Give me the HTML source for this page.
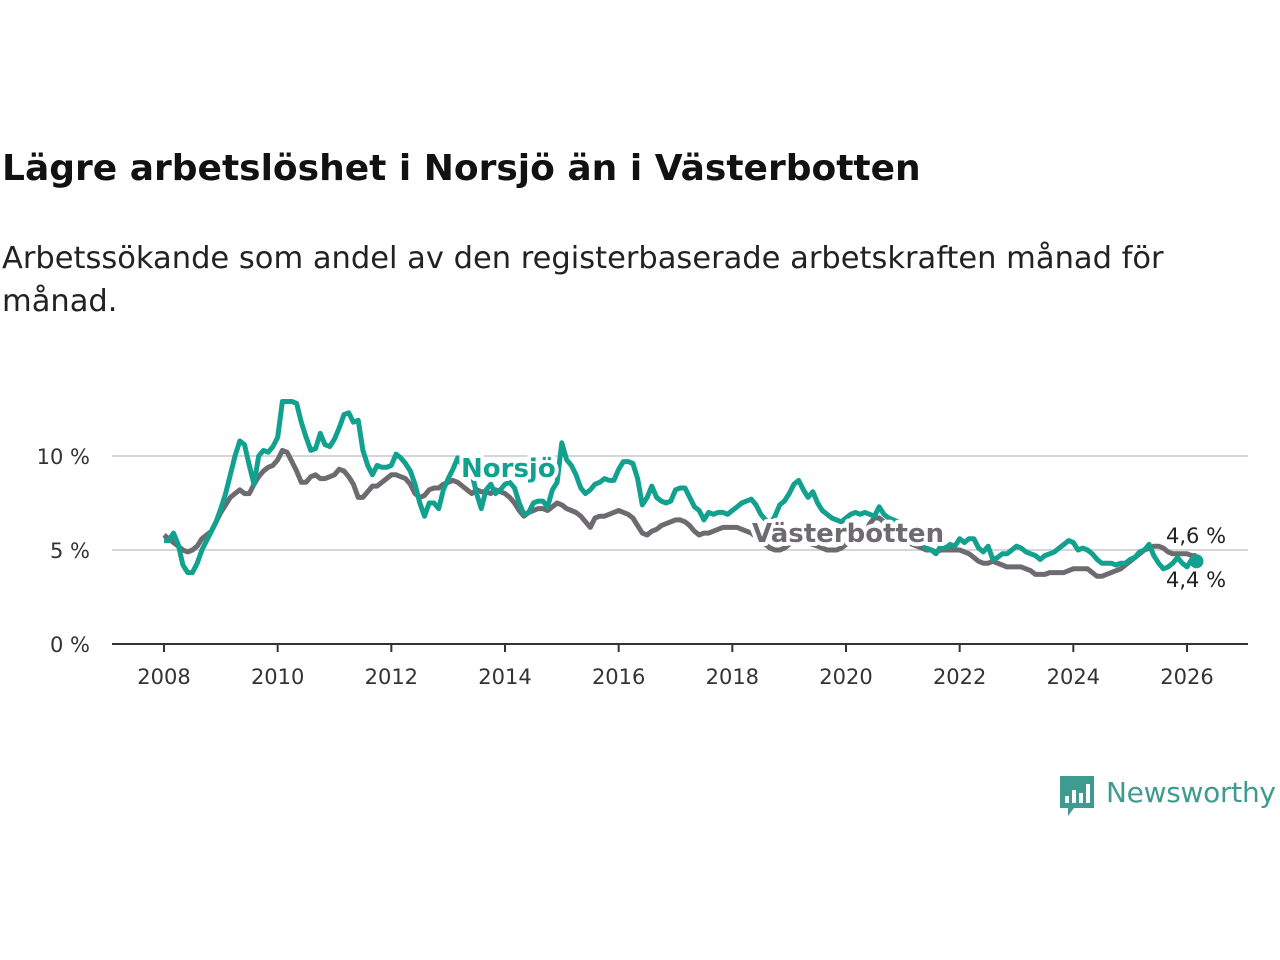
<!DOCTYPE html>
<html><head><meta charset="utf-8"><style>
body{margin:0;background:#fff;width:1280px;height:960px;overflow:hidden;font-family:"DejaVu Sans","Liberation Sans",sans-serif}
h1{position:absolute;left:2px;top:148px;margin:0;font-size:36px;font-weight:bold;color:#111}
p{position:absolute;left:2px;top:237px;margin:0;font-size:30.5px;line-height:43px;color:#222;width:1200px}
svg{position:absolute;left:0;top:0}
</style></head><body>
<h1>Lägre arbetslöshet i Norsjö än i Västerbotten</h1>
<p>Arbetssökande som andel av den registerbaserade arbetskraften månad för månad.</p>
<svg id="c" width="1280" height="960"></svg>
<script>
const years=[2008,2010,2012,2014,2016,2018,2020,2022,2024,2026];
const yTicks=[0,5,10];
const startYear=2008;
const norsjo=[5.5,5.5,5.9,5.3,4.2,3.8,3.8,4.3,5.0,5.5,6.0,6.5,
7.2,8.0,9.0,10.0,10.8,10.6,9.5,8.5,10.0,10.3,10.2,10.5,
11.0,12.9,12.9,12.9,12.8,11.8,11.0,10.3,10.4,11.2,10.6,10.5,
10.9,11.5,12.2,12.3,11.8,11.9,10.3,9.5,9.0,9.5,9.4,9.4,
9.5,10.1,9.9,9.6,9.2,8.5,7.5,6.8,7.5,7.5,7.2,8.2,
8.8,9.3,9.9,9.5,9.0,9.1,8.0,7.2,8.2,8.5,8.0,8.2,
8.5,8.6,8.3,7.5,6.9,7.0,7.5,7.6,7.6,7.3,8.2,8.6,
10.7,9.8,9.5,9.0,8.3,8.0,8.2,8.5,8.6,8.8,8.7,8.7,
9.3,9.7,9.7,9.6,8.8,7.4,7.8,8.4,7.8,7.6,7.5,7.6,
8.2,8.3,8.3,7.8,7.3,7.1,6.6,7.0,6.9,7.0,7.0,6.9,
7.1,7.3,7.5,7.6,7.7,7.4,6.9,6.6,6.4,6.8,7.4,7.6,
8.0,8.5,8.7,8.2,7.8,8.1,7.5,7.1,6.9,6.7,6.6,6.5,
6.7,6.9,7.0,6.9,7.0,6.9,6.8,7.3,6.9,6.7,6.6,6.5,
6.3,6.0,5.8,5.7,5.4,5.1,5.0,4.8,5.2,5.1,5.3,5.2,
5.6,5.4,5.6,5.6,5.1,4.9,5.2,4.5,4.6,4.8,4.8,5.0,
5.2,5.1,4.9,4.8,4.7,4.5,4.7,4.8,4.9,5.1,5.3,5.5,
5.4,5.0,5.1,5.0,4.8,4.5,4.3,4.3,4.3,4.2,4.3,4.3,
4.5,4.6,4.9,5.0,5.3,4.7,4.3,4.0,4.1,4.3,4.6,4.3,
4.1,4.5,4.4];
const vasterbotten=[5.8,5.6,5.4,5.2,5.0,4.9,5.0,5.2,5.6,5.8,6.0,6.5,
7.0,7.4,7.8,8.0,8.2,8.0,8.0,8.5,8.9,9.2,9.4,9.5,
9.8,10.3,10.2,9.7,9.2,8.6,8.6,8.9,9.0,8.8,8.8,8.9,
9.0,9.3,9.2,8.9,8.5,7.8,7.8,8.1,8.4,8.4,8.6,8.8,
9.0,9.0,8.9,8.8,8.5,8.0,7.8,7.9,8.2,8.3,8.3,8.5,
8.6,8.7,8.6,8.4,8.2,8.0,8.2,8.1,8.1,8.0,8.2,8.1,
8.0,7.8,7.5,7.1,6.8,7.0,7.1,7.2,7.2,7.1,7.3,7.5,
7.4,7.2,7.1,7.0,6.8,6.5,6.2,6.7,6.8,6.8,6.9,7.0,
7.1,7.0,6.9,6.7,6.3,5.9,5.8,6.0,6.1,6.3,6.4,6.5,
6.6,6.6,6.5,6.3,6.0,5.8,5.9,5.9,6.0,6.1,6.2,6.2,
6.2,6.2,6.1,6.0,5.9,5.7,5.5,5.3,5.1,5.0,5.0,5.1,
5.3,5.5,5.6,5.5,5.4,5.3,5.2,5.1,5.0,5.0,5.0,5.1,
5.3,5.4,5.5,5.6,5.8,6.4,6.7,6.7,6.5,6.3,6.0,5.7,
5.6,5.5,5.3,5.2,5.1,5.0,5.0,4.9,5.0,5.0,5.0,5.0,
5.0,4.9,4.8,4.6,4.4,4.3,4.3,4.4,4.3,4.2,4.1,4.1,
4.1,4.1,4.0,3.9,3.7,3.7,3.7,3.8,3.8,3.8,3.8,3.9,
4.0,4.0,4.0,4.0,3.8,3.6,3.6,3.7,3.8,3.9,4.0,4.2,
4.4,4.6,4.8,5.0,5.1,5.2,5.2,5.1,4.9,4.8,4.8,4.8,
4.8,4.7,4.7];
const NS='http://www.w3.org/2000/svg';
const svg=document.getElementById('c');
const xS=t=>164+(t-2008)*(1187-164)/18;
const yS=v=>644-v*18.8;
function el(tag,a,p){const e=document.createElementNS(NS,tag);for(const k in a)e.setAttribute(k,a[k]);(p||svg).appendChild(e);return e;}
yTicks.forEach(v=>{
 if(v>0){const g=el('line',{x1:112,x2:1248,y1:yS(v),y2:yS(v),stroke:'#d6d6d6','stroke-width':2});
 
 }
 const t=el('text',{x:90,y:yS(v)+8,'text-anchor':'end','font-size':21,fill:'#333'});t.textContent=v+' %';
 
 
});
const ax=el('line',{x1:112,x2:1248,y1:644,y2:644,stroke:'#333','stroke-width':2});


years.forEach(y=>{
 el('line',{x1:xS(y),x2:xS(y),y1:644,y2:652,stroke:'#333','stroke-width':2});
 const t=el('text',{x:xS(y),y:684,'text-anchor':'middle','font-size':21,fill:'#333'});t.textContent=y;
 
 
});
function line(data,color,name){
 const d=data.map((v,i)=>(i?'L':'M')+xS(startYear+i/12).toFixed(1)+','+yS(v).toFixed(1)).join('');
 const p=el('path',{d:d,fill:'none',stroke:color,'stroke-width':5,'stroke-linejoin':'round'});
 
 
}
line(vasterbotten,'#6d6b70','vasterbotten-line');
line(norsjo,'#12a08f','norsjo-line');
function label(x,y,txt,color,name){
 const h=el('text',{x:x,y:y,'font-size':26,'font-weight':'bold',fill:'#fff',stroke:'#fff','stroke-width':8,'stroke-linejoin':'round'});h.textContent=txt;
 const t=el('text',{x:x,y:y,'font-size':26,'font-weight':'bold',fill:color});t.textContent=txt;
 
 
}
label(461,477,'Norsjö','#12a08f','norsjo-label');
label(752,542,'Västerbotten','#6d6b70','vasterbotten-label');
const ln=norsjo.length-1, lx=xS(startYear+ln/12);
const dot=el('circle',{cx:lx,cy:yS(norsjo[ln]),r:7,fill:'#12a08f'});


const e1=el('text',{x:1166,y:543,'font-size':21,fill:'#222'});e1.textContent='4,6 %';


const e2=el('text',{x:1166,y:587,'font-size':21,fill:'#222'});e2.textContent='4,4 %';


const lg=el('g',{});


el('path',{d:'M1060,776 h34 v32 h-20 l-6,8 l0,-8 h-8 z',fill:'#3f9a8f'},lg);
el('rect',{x:1065,y:796,width:4,height:7,fill:'#fff'},lg);
el('rect',{x:1072,y:790,width:4,height:13,fill:'#fff'},lg);
el('rect',{x:1079,y:793,width:4,height:10,fill:'#fff'},lg);
el('rect',{x:1086,y:784,width:4,height:19,fill:'#fff'},lg);
const lt=el('text',{x:1106,y:802,'font-size':28,fill:'#3f9a8f',textLength:170},lg);lt.textContent='Newsworthy';
</script>
</body></html>
